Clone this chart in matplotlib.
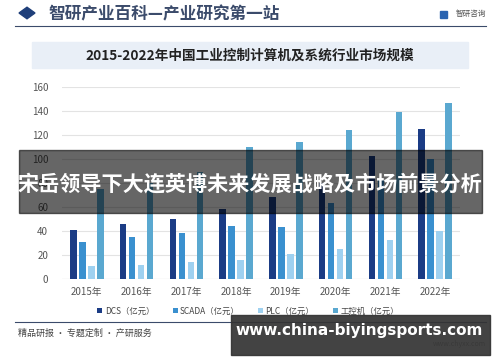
import numpy as np
import matplotlib
matplotlib.use('Agg')
import matplotlib.pyplot as plt
from matplotlib.patches import Rectangle, RegularPolygon

plt.rcParams['font.family'] = ['Noto Sans CJK SC', 'DejaVu Sans']

# data (values hidden by the overlay are estimated)
years = ['2015年', '2016年', '2017年', '2018年', '2019年', '2020年', '2021年', '2022年']
dcs = [40.6, 45.6, 49.5, 57.8, 68.0, 80.0, 102.0, 124.5]
scada = [31.0, 35.0, 37.8, 44.0, 43.4, 63.3, 82.0, 100.0]
plc = [10.6, 11.4, 13.6, 15.6, 20.3, 24.5, 32.3, 40.0]
ipc = [75.0, 80.0, 89.0, 110.0, 113.6, 124.0, 138.6, 146.7]
series_names = ['DCS（亿元）', 'SCADA（亿元）', 'PLC（亿元）', '工控机（亿元）']
colors = ['#1b3c85', '#3a90cf', '#9fd1f0', '#5aa8d0']

W, H = 500, 362
fig = plt.figure(figsize=(W / 100, H / 100), dpi=100)
fig.patch.set_facecolor('white')


def px(x, y):
    # pixel coords (top-left origin) -> figure fraction
    return x / W, 1 - y / H


# header
fig.patches.append(RegularPolygon(px(27, 13), 4, radius=0.016, orientation=0,
                                  color='#1f3f7a', transform=fig.transFigure))
fig.text(*px(48, 14), '智研产业百科—产业研究第一站', fontsize=12, fontweight='bold',
         color='#3b4b6b', va='center', ha='left')
fig.text(*px(486, 14), '智研咨询', fontsize=5.5, color='#555555', va='center', ha='right')
fig.patches.append(Rectangle(px(440, 18), 0.014, 0.02, color='#2a63b0',
                             transform=fig.transFigure))
fig.lines.append(plt.Line2D([15 / W, 486 / W], [1 - 26 / H] * 2, color='#3b4b6b',
                            lw=0.8, transform=fig.transFigure))

# title box
fig.patches.append(Rectangle(px(32, 68), 436 / W, 26 / H, color='#e9eff7',
                             transform=fig.transFigure))
fig.text(*px(250, 56), '2015-2022年中国工业控制计算机及系统行业市场规模', fontsize=9.8,
         fontweight='bold', color='#222222', ha='center', va='center')

# chart
l, b = px(62, 278.7)
r, t = px(460, 86.7)
ax = fig.add_axes([l, b, r - l, t - b])
x = np.arange(len(years))
w = 0.13
offs = [-0.27, -0.09, 0.09, 0.27]
for vals, c, o, name in zip([dcs, scada, plc, ipc], colors, offs, series_names):
    ax.bar(x + o, vals, width=w, color=c, label=name, zorder=2)
ax.set_xlim(-0.5, len(years) - 0.5)
ax.set_ylim(0, 160)
ax.set_yticks(range(0, 161, 20))
ax.set_xticks(x)
ax.set_xticklabels(years)
ax.grid(axis='y', color='#e3e3e3', lw=0.8, zorder=0)
for s in ax.spines.values():
    s.set_visible(False)
ax.axhline(0, color='#d8d8d8', lw=0.8, zorder=1)
ax.tick_params(length=0, labelsize=7, colors='#555555')
ax.tick_params(axis='y', pad=10)
ax.tick_params(axis='x', pad=6)
ax.set_facecolor('none')

leg = fig.legend(loc='center', bbox_to_anchor=px(248, 311), ncol=4, frameon=False,
                 fontsize=6, handlelength=0.6, handleheight=0.6, handletextpad=0.3,
                 columnspacing=2.2, labelcolor='#444444')

# footer
fig.lines.append(plt.Line2D([15 / W, 486 / W], [1 - 322 / H] * 2, color='#3b4b6b',
                            lw=0.8, transform=fig.transFigure))
fig.text(*px(18, 333), '精品研报 · 专题定制 · 产研服务', fontsize=6.5, color='#444444',
         va='center', ha='left')
fig.text(*px(486, 344), 'www.chyxx.com', fontsize=5, color='#777777', va='center', ha='right')

# overlay band with headline
fig.patches.append(Rectangle(px(19, 213), 463 / W, 63 / H, color='black', alpha=0.6,
                             transform=fig.transFigure, zorder=10))
fig.text(*px(250, 184), '宋岳领导下大连英博未来发展战略及市场前景分析', fontsize=15.2,
         fontweight='bold', color='white', ha='center', va='center', zorder=11)

# bottom-right url box
fig.patches.append(Rectangle(px(231, 355), 259 / W, 40 / H, color='#333333', alpha=0.92,
                             transform=fig.transFigure, zorder=10))
fig.text(*px(359, 331), 'www.china-biyingsports.com', fontsize=11, fontweight='bold',
         color='white', ha='center', va='center', zorder=11, family='DejaVu Sans')

fig.savefig('out.png', dpi=100)
